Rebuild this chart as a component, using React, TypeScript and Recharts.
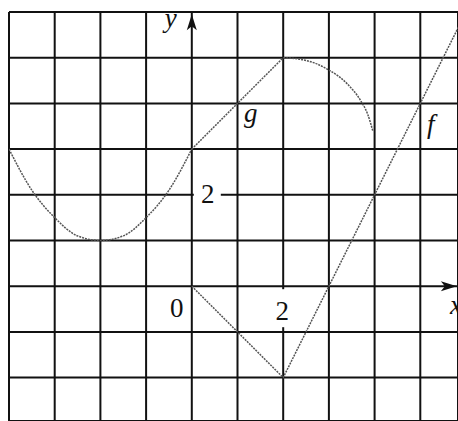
import React from 'react';
import { ComposedChart, Line, XAxis, YAxis, CartesianGrid, ReferenceDot } from 'recharts';

// grid (1 unit per square)
const xTicks = [-4, -3, -2, -1, 0, 1, 2, 3, 4, 5];
const yTicks = [-2, -1, 0, 1, 2, 3, 4, 5, 6];

// g: bowl left of the y-axis
const gLeftX = [-4, -3.5, -3, -2.5, -2, -1.5, -1, -0.5, 0];
const gLeftY = [3, 2.1, 1.5, 1.1, 1, 1.1, 1.5, 2.1, 3];
// g: straight piece
const gMidX = [0, 2];
const gMidY = [3, 5];
// g: arc on the right
const gArcX = [2, 2.5, 3, 3.4, 3.7, 3.85, 3.96];
const gArcY = [5, 4.94, 4.73, 4.43, 4.05, 3.76, 3.4];
// f
const fX = [0, 2, 5.9];
const fY = [0, -2, 5.8];

const toPoints = (xs: number[], ys: number[]) => xs.map((x, i) => ({ x, y: ys[i] }));

const W = 458;
const H = 421;
const FONT = 'Liberation Serif, DejaVu Serif, serif';
const INK = '#111';
const CURVE = '#555';

type Lbl = { text: string; x: number; y: number; dx: number; dy: number; italic?: boolean; anchor?: string; box?: [number, number, number, number] };

const labels: Lbl[] = [
  { text: '2', x: 0, y: 2, dx: 16, dy: 8, box: [2, -11, 27, 22] },
  { text: '2', x: 2, y: 0, dx: -1, dy: 34, box: [-10, 3, 20, 38] },
  { text: '0', x: 0, y: 0, dx: -15, dy: 31 },
  { text: 'g', x: 1.29, y: 3.59, dx: 0, dy: 0, italic: true },
  { text: 'f', x: 5.23, y: 3.35, dx: 0, dy: 0, italic: true },
  { text: 'y', x: -0.46, y: 5.67, dx: 0, dy: 0, italic: true },
  { text: 'x', x: 5.65, y: -0.61, dx: 0, dy: 0, italic: true, anchor: 'start' },
];

const labelShape = (l: Lbl) => (p: any) => (
  <g>
    {l.box && <rect x={p.cx + l.box[0]} y={p.cy + l.box[1]} width={l.box[2]} height={l.box[3]} fill="#fff" />}
    <text
      x={p.cx + l.dx}
      y={p.cy + l.dy}
      textAnchor={l.anchor || 'middle'}
      style={{ fontFamily: FONT, fontSize: 27, fontStyle: l.italic ? 'italic' : 'normal' }}
      fill={INK}
    >
      {l.text}
    </text>
  </g>
);

const yArrow = (p: any) => (
  <path d={`M${p.cx},${p.cy} L${p.cx - 5},${p.cy + 16} L${p.cx},${p.cy + 12} L${p.cx + 5},${p.cy + 16} Z`} fill={INK} />
);
const xArrow = (p: any) => (
  <path d={`M${p.cx},${p.cy} L${p.cx - 16},${p.cy - 5} L${p.cx - 12},${p.cy} L${p.cx - 16},${p.cy + 5} Z`} fill={INK} />
);

const App: React.FC = () => (
  <div style={{ position: 'absolute', left: 0, top: 0, width: W, height: H, background: '#fff', fontFamily: FONT }}>
    <ComposedChart width={W} height={H} margin={{ top: 12, right: 0, bottom: 0, left: 9 }}>
      <CartesianGrid stroke={INK} strokeWidth={2} />
      <XAxis type="number" dataKey="x" domain={[-4, 5.825]} ticks={xTicks} allowDataOverflow hide />
      <YAxis type="number" dataKey="y" domain={[-2.95, 6]} ticks={yTicks} allowDataOverflow hide />
      <Line data={toPoints(gLeftX, gLeftY)} dataKey="y" type="monotone" stroke={CURVE} strokeWidth={1.5} strokeDasharray="2 1" dot={false} isAnimationActive={false} />
      <Line data={toPoints(gMidX, gMidY)} dataKey="y" type="linear" stroke={CURVE} strokeWidth={1.5} strokeDasharray="2 1" dot={false} isAnimationActive={false} />
      <Line data={toPoints(gArcX, gArcY)} dataKey="y" type="monotone" stroke={CURVE} strokeWidth={1.5} strokeDasharray="2 1" dot={false} isAnimationActive={false} />
      <Line data={toPoints(fX, fY)} dataKey="y" type="linear" stroke={CURVE} strokeWidth={1.5} strokeDasharray="2 1" dot={false} isAnimationActive={false} />
      <ReferenceDot x={0} y={5.95} ifOverflow="visible" shape={yArrow} />
      <ReferenceDot x={5.8} y={0} ifOverflow="visible" shape={xArrow} />
      {labels.map((l, i) => (
        <ReferenceDot key={i} x={l.x} y={l.y} ifOverflow="visible" shape={labelShape(l)} />
      ))}
    </ComposedChart>
  </div>
);

export default App;
